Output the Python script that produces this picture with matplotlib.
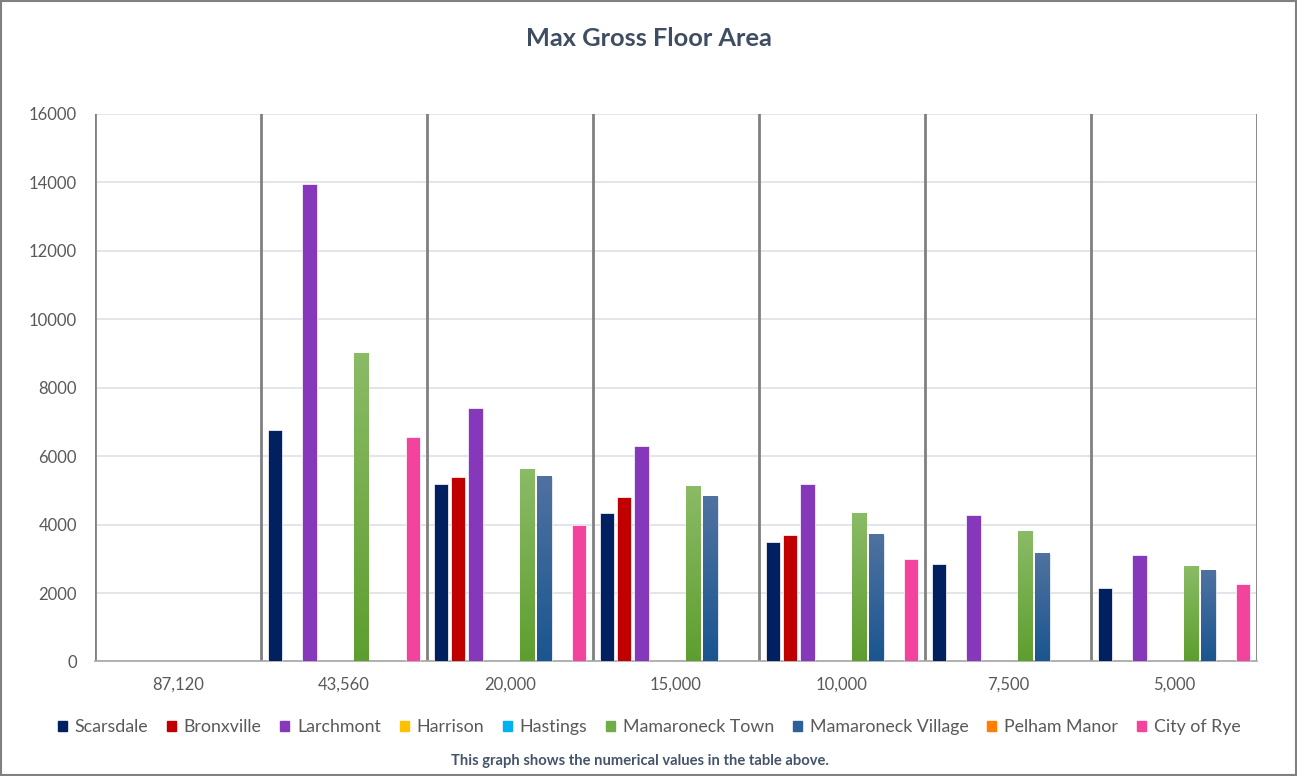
import matplotlib
matplotlib.use("Agg")
import matplotlib.pyplot as plt
import numpy as np
from matplotlib.colors import LinearSegmentedColormap
from matplotlib.patches import Rectangle

plt.rcParams["font.family"] = ["Lato", "DejaVu Sans"]

lot_sizes = ["87,120", "43,560", "20,000", "15,000", "10,000", "7,500", "5,000"]
towns = ["Scarsdale", "Bronxville", "Larchmont", "Harrison", "Hastings",
         "Mamaroneck Town", "Mamaroneck Village", "Pelham Manor", "City of Rye"]

nan = np.nan
scarsdale = [nan, 6750, 5200, 4350, 3500, 2850, 2150]
bronxville = [nan, nan, 5400, 4800, 3700, nan, nan]
larchmont = [nan, 13950, 7400, 6300, 5200, 4275, 3100]
harrison = [nan] * 7
hastings = [nan] * 7
mamaroneck_town = [nan, 9000, 5600, 5100, 4325, 3780, 2750]
mamaroneck_village = [nan, nan, 5400, 4800, 3700, 3150, 2650]
pelham_manor = [nan] * 7
city_of_rye = [nan, 6550, 4000, nan, 3000, nan, 2250]

series = [scarsdale, bronxville, larchmont, harrison, hastings,
          mamaroneck_town, mamaroneck_village, pelham_manor, city_of_rye]
colors = ["#002060", "#C00000", "#8539BA", "#FFC000", "#00B0F0",
          "#70AD47", "#2E6099", "#FF7F00", "#F2449C"]
# gradient ends (bottom, top) for the two Mamaroneck series
gradients = {5: ("#5E9E2F", "#8ABB66"), 6: ("#1A5690", "#4F72A0")}

fig = plt.figure(figsize=(12.97, 7.76), dpi=100)
ax = fig.add_axes([0.0732, 0.1476, 0.8960, 0.7055])

x = np.arange(len(lot_sizes))
slot = 0.1039
width = 0.087
handles = []
for i, (vals, col) in enumerate(zip(series, colors)):
    offs = (i - 4) * slot
    ax.bar(x + offs, vals, width, color=col, edgecolor="white",
           linewidth=0.5, zorder=3, label=towns[i])
    handles.append(Rectangle((0, 0), 1, 1, color=col))
    if i in gradients:
        cmap = LinearSegmentedColormap.from_list("g", [gradients[i][0], gradients[i][1]])
        grad = np.linspace(0, 1, 100).reshape(-1, 1)
        for xv, v in zip(x + offs, vals):
            if np.isnan(v):
                continue
            ax.imshow(grad, extent=[xv - width / 2, xv + width / 2, 0, v],
                      origin="lower", aspect="auto", cmap=cmap, zorder=4)

ax.set_xlim(-0.5, 6.5)
ax.set_ylim(0, 16000)
ax.set_yticks(np.arange(0, 16001, 2000))
ax.set_xticks(x)
ax.set_xticklabels(lot_sizes)
ax.tick_params(length=0, labelsize=12, labelcolor="#595959")
ax.tick_params(axis="x", pad=11)
ax.tick_params(axis="y", pad=13)

ax.grid(axis="y", color="#DDE1E8", linewidth=1.2, zorder=0)
for b in np.arange(-0.5, 7, 1):
    ax.axvline(b, color="#808080", linewidth=2, zorder=2)
for s in ["top", "left", "right"]:
    ax.spines[s].set_visible(False)
ax.spines["bottom"].set_color("#A6A6A6")
ax.spines["bottom"].set_linewidth(1.2)

fig.text(0.5, 0.951, "Max Gross Floor Area", ha="center", va="center",
         fontsize=18.3, fontweight="bold", color="#3F4D63")
fig.legend(handles, towns, loc="center", bbox_to_anchor=(0.5004, 0.063), ncol=9,
           frameon=False, fontsize=12.8, handlelength=0.5, handleheight=0.5,
           handletextpad=0.45, columnspacing=1.05, labelcolor="#595959")
fig.text(0.4934, 0.019, "This graph shows the numerical values in the table above.",
         ha="center", va="center", fontsize=10.6, fontweight="bold", color="#44546A")

fig.patches.append(Rectangle((0.001, 0.001), 0.998, 0.998, transform=fig.transFigure,
                             fill=False, edgecolor="#808080", linewidth=1.5))

fig.savefig("out.png", dpi=100)
